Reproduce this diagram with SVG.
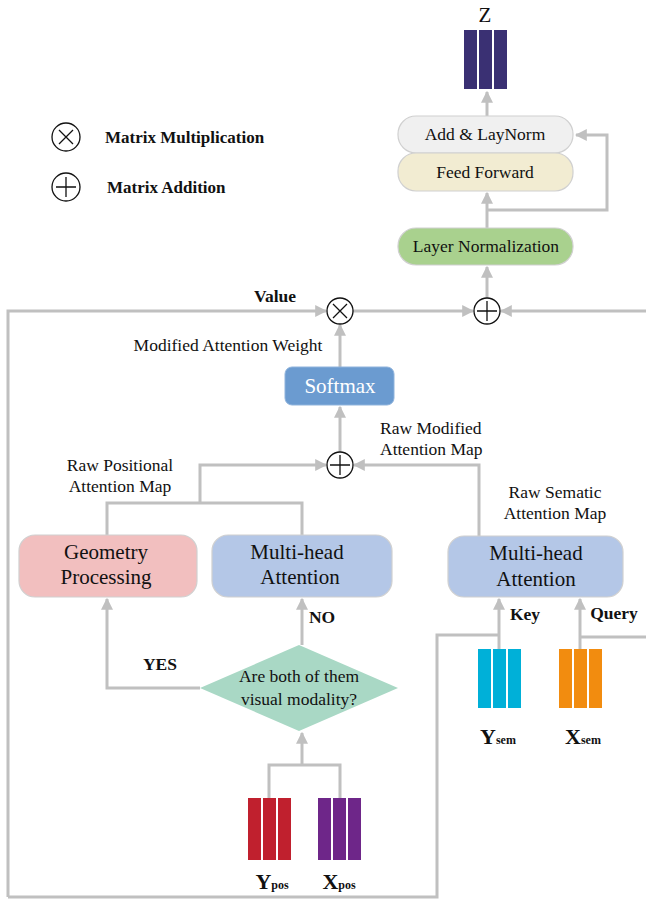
<svg xmlns="http://www.w3.org/2000/svg" width="646" height="900" viewBox="0 0 646 900">
<defs>
<marker id="ah" viewBox="0 0 10 10" refX="9" refY="5" markerWidth="4" markerHeight="4" orient="auto" markerUnits="strokeWidth">
<path d="M0,0 L10,5 L0,10 z" fill="#c0c0c0"/>
</marker>
<style>
text{font-family:"Liberation Serif","DejaVu Serif","Times New Roman",Times,serif;fill:#111;font-size:17.5px}
.b{font-weight:bold}
.m{text-anchor:middle}
.big{font-size:21px}
.c{stroke:#c0c0c0;stroke-width:3;fill:none}
.a{marker-end:url(#ah)}
.op{fill:#fff;stroke:#111;stroke-width:1.3}
.sym{stroke:#111;stroke-width:1.3}
.box{stroke:#d0d0d0;stroke-width:1.2}
.vl{font-size:22px}
.sub{font-size:12px}
</style>
</defs>
<rect width="646" height="900" fill="#fff"/>

<g id="connectors">
<line class="c a" x1="487" y1="116" x2="487" y2="92"/>
<line class="c a" x1="487" y1="228" x2="487" y2="193"/>
<polyline class="c a" points="487,210 607,210 607,135 576,135"/>
<line class="c a" x1="487" y1="299" x2="487" y2="267"/>
<polyline class="c a" points="8,897 8,311 326,311"/>
<line class="c a" x1="352" y1="311" x2="473" y2="311"/>
<line class="c a" x1="646" y1="311" x2="501" y2="311"/>
<line class="c a" x1="340" y1="367" x2="340" y2="325"/>
<line class="c a" x1="340" y1="453" x2="340" y2="407"/>
<polyline class="c a" points="200,503 200,465 326,465"/>
<polyline class="c" points="107,535 107,503 302,503 302,535"/>
<polyline class="c a" points="479,536 479,465 354,465"/>
<polyline class="c a" points="200,688 107,688 107,599"/>
<line class="c a" x1="302" y1="645" x2="302" y2="599"/>
<polyline class="c" points="269,798 269,765 340,765 340,798"/>
<line class="c a" x1="302" y1="765" x2="302" y2="733"/>
<polyline class="c" points="8,897 437,897 437,635 499,635"/>
<line class="c a" x1="499" y1="649" x2="499" y2="599"/>
<line class="c" x1="646" y1="637" x2="580" y2="637"/>
<line class="c a" x1="580" y1="649" x2="580" y2="599"/>
</g>

<g id="legend">
<circle class="op" cx="66" cy="137" r="14"/>
<path class="sym" d="M59,130 L73,144 M73,130 L59,144"/>
<text class="b" x="105" y="143" style="font-size:17px">Matrix Multiplication</text>
<circle class="op" cx="66" cy="187" r="14"/>
<path class="sym" d="M56,187 L76,187 M66,177 L66,197"/>
<text class="b" x="107" y="193" style="font-size:17px">Matrix Addition</text>
</g>

<g id="Z">
<text class="m" x="485" y="22" style="font-size:21px">Z</text>
<rect x="464" y="30" width="13" height="59" fill="#3a3073"/>
<rect x="479" y="30" width="13" height="59" fill="#3a3073"/>
<rect x="494" y="30" width="13" height="59" fill="#3a3073"/>
</g>

<g id="add-laynorm">
<rect class="box" x="398" y="116" width="175" height="37" rx="18" fill="#f0f0f0"/>
<text class="m" x="485" y="140">Add &amp; LayNorm</text>
</g>
<g id="feed-forward">
<rect class="box" x="398" y="153" width="175" height="38" rx="18" fill="#f2ecd2"/>
<text class="m" x="485" y="178">Feed Forward</text>
</g>
<g id="layer-norm">
<rect class="box" x="398" y="228" width="175" height="37" rx="18" fill="#a9d18e"/>
<text class="m" x="486" y="252">Layer Normalization</text>
</g>

<g id="mult">
<circle class="op" cx="340" cy="311" r="13"/>
<path class="sym" d="M333,304 L347,318 M347,304 L333,318"/>
<text class="b m" x="275" y="302">Value</text>
</g>
<g id="add-top">
<circle class="op" cx="487" cy="311" r="13"/>
<path class="sym" d="M477,311 L497,311 M487,301 L487,321"/>
</g>
<text class="m" x="228" y="351">Modified Attention Weight</text>

<g id="softmax">
<rect x="285" y="367" width="109" height="38" rx="7" fill="#6b9bd0" stroke="#8fb3dc" stroke-width="1"/>
<text class="m" x="340" y="393" style="font-size:21px;fill:#fff">Softmax</text>
</g>

<g id="add-mid">
<circle class="op" cx="340" cy="465" r="13"/>
<path class="sym" d="M330,465 L350,465 M340,455 L340,475"/>
<text x="380" y="434">Raw Modified</text>
<text x="380" y="455">Attention Map</text>
</g>
<text class="m" x="120" y="471">Raw Positional</text>
<text class="m" x="120" y="492">Attention Map</text>
<text class="m" x="555" y="498">Raw Sematic</text>
<text class="m" x="555" y="519">Attention Map</text>

<g id="geometry">
<rect class="box" x="19" y="535" width="178" height="62" rx="16" fill="#f2bfbf"/>
<text class="m big" x="106" y="559">Geometry</text>
<text class="m big" x="106" y="584">Processing</text>
</g>
<g id="mha-left">
<rect class="box" x="212" y="535" width="180" height="62" rx="16" fill="#b4c7e7"/>
<text class="m big" x="297" y="559">Multi-head</text>
<text class="m big" x="300" y="584">Attention</text>
</g>
<g id="mha-right">
<rect class="box" x="448" y="536" width="175" height="61" rx="16" fill="#b4c7e7"/>
<text class="m big" x="536" y="560">Multi-head</text>
<text class="m big" x="536" y="586">Attention</text>
</g>

<text class="b m" x="322" y="623">NO</text>
<text class="b m" x="160" y="670">YES</text>
<text class="b m" x="525" y="620">Key</text>
<text class="b m" x="614" y="619">Query</text>

<g id="decision">
<polygon points="299,645 398,688 299,731 200,688" fill="#a9d8c5"/>
<text class="m" x="299" y="682">Are both of them</text>
<text class="m" x="299" y="705">visual modality?</text>
</g>

<g id="Ysem">
<rect x="478" y="649" width="13" height="59" fill="#00b0d8"/>
<rect x="493" y="649" width="13" height="59" fill="#00b0d8"/>
<rect x="508" y="649" width="13" height="59" fill="#00b0d8"/>
<text class="b m vl" x="498" y="744">Y<tspan class="sub">sem</tspan></text>
</g>
<g id="Xsem">
<rect x="559" y="649" width="13" height="59" fill="#f28c0f"/>
<rect x="574" y="649" width="13" height="59" fill="#f28c0f"/>
<rect x="589" y="649" width="13" height="59" fill="#f28c0f"/>
<text class="b m vl" x="583" y="744">X<tspan class="sub">sem</tspan></text>
</g>
<g id="Ypos">
<rect x="248" y="798" width="13" height="62" fill="#c0202e"/>
<rect x="263" y="798" width="13" height="62" fill="#c0202e"/>
<rect x="278" y="798" width="13" height="62" fill="#c0202e"/>
<text class="b m vl" x="272" y="889">Y<tspan class="sub">pos</tspan></text>
</g>
<g id="Xpos">
<rect x="318" y="798" width="13" height="62" fill="#6e2689"/>
<rect x="333" y="798" width="13" height="62" fill="#6e2689"/>
<rect x="348" y="798" width="13" height="62" fill="#6e2689"/>
<text class="b m vl" x="339" y="889">X<tspan class="sub">pos</tspan></text>
</g>
</svg>
